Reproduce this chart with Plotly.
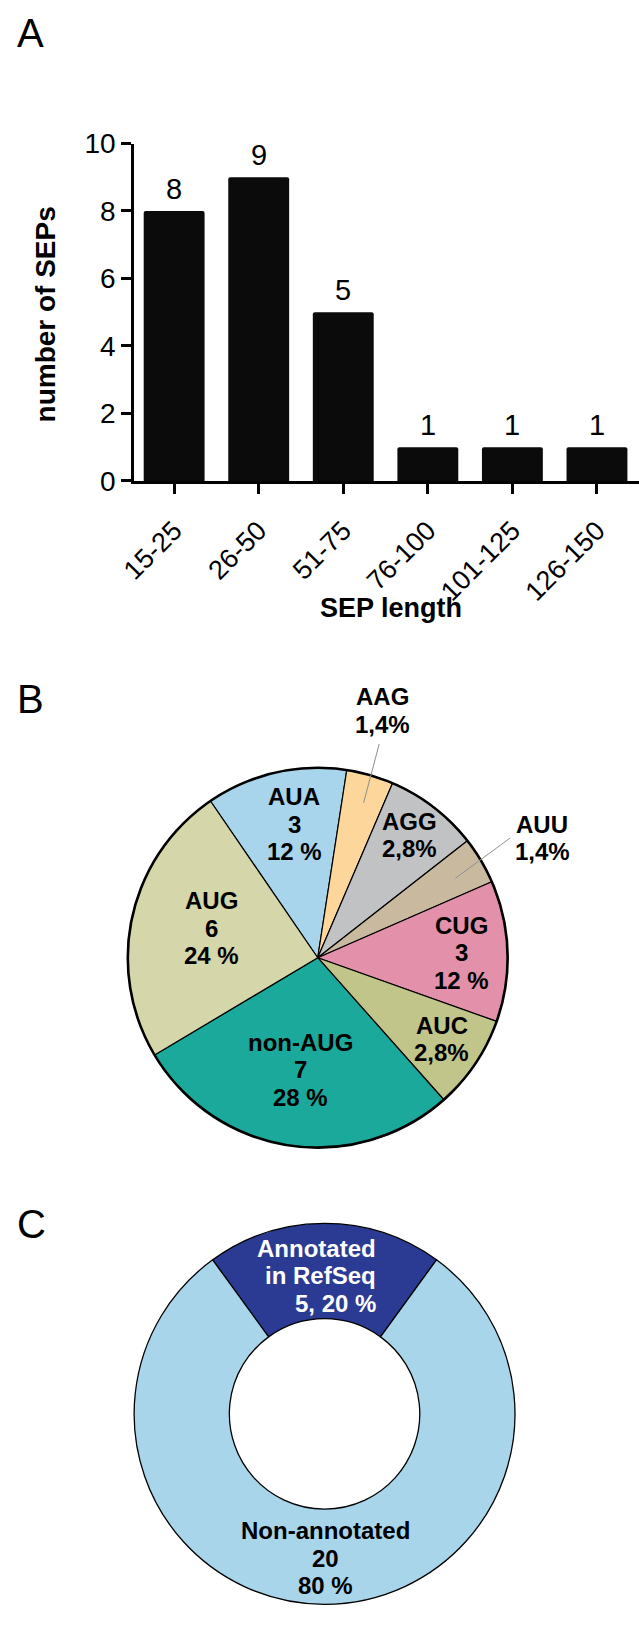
import plotly.graph_objects as go

W, H = 639, 1630

# ---------------- data ----------------
# Panel A: SEP length distribution
length_bins = ["15-25", "26-50", "51-75", "76-100", "101-125", "126-150"]
sep_counts = [8, 9, 5, 1, 1, 1]
y_ticks = [0, 2, 4, 6, 8, 10]

# Panel B: start codons
codons = ["AUA", "AAG", "AGG", "AUU", "CUG", "AUC", "non-AUG", "AUG"]
codon_counts = [3, 1, 2, 1, 3, 2, 7, 6]
codon_pct = ["12 %", "1,4%", "2,8%", "1,4%", "12 %", "2,8%", "28 %", "24 %"]
codon_colors = ["#A8D4EC", "#FDD69B", "#C1C2C4", "#C9B99F",
                "#E391AA", "#C2C58A", "#1AA99A", "#D5D6A9"]

# Panel C: RefSeq annotation
refseq_groups = ["Annotated in RefSeq", "Non-annotated"]
refseq_counts = [5, 20]
refseq_colors = ["#2B3A92", "#A9D5EB"]

FONT = "Liberation Sans, Arial, Helvetica, sans-serif"


def fx(px):
    return px / W


def fy(py):
    return 1 - py / H


fig = go.Figure()

# ---------------- Panel A ----------------
fig.add_trace(go.Bar(
    x=length_bins, y=sep_counts, width=0.72,
    marker=dict(color="#0b0b0b", cornerradius=2, line=dict(width=0)),
    xaxis="x", yaxis="y", showlegend=False, hoverinfo="x+y",
))

annotations = []
for cat, val in zip(length_bins, sep_counts):
    annotations.append(dict(
        x=cat, y=val, xref="x", yref="y", text=str(val), showarrow=False,
        yanchor="bottom", yshift=4, font=dict(family=FONT, size=29, color="black"),
    ))

# ---------------- Panel B ----------------
pie_b_dom = dict(x=[fx(310 - 194.5), fx(310 + 194.5)], y=[fy(961 + 194.5), fy(961 - 194.5)])
fig.add_trace(go.Pie(
    values=codon_counts, labels=codons, sort=False, direction="clockwise", rotation=-34.4,
    marker=dict(colors=codon_colors, line=dict(color="black", width=1.2)),
    textinfo="none", domain=pie_b_dom, showlegend=False,
))
# outer outline (single full slice, transparent)
fig.add_trace(go.Pie(
    values=[sum(codon_counts)], labels=["all"], sort=False,
    marker=dict(colors=["rgba(0,0,0,0)"], line=dict(color="black", width=2.6)),
    textinfo="none", domain=pie_b_dom, showlegend=False, hoverinfo="skip",
))

# ---------------- Panel C ----------------
pie_c_dom = dict(x=[fx(317 - 195), fx(317 + 195)], y=[fy(1426 + 195), fy(1426 - 195)])
fig.add_trace(go.Pie(
    values=refseq_counts, labels=refseq_groups, sort=False, direction="clockwise",
    rotation=-36, hole=0.5,
    marker=dict(colors=refseq_colors, line=dict(color="black", width=1.3)),
    textinfo="none", domain=pie_c_dom, showlegend=False,
))


def add_lines(lines, px, py0, spacing=28, color="black", anchor="center"):
    for i, ln in enumerate(lines):
        annotations.append(dict(
            x=fx(px), y=fy(py0 + i * spacing), xref="paper", yref="paper", text=ln,
            showarrow=False, xanchor=anchor, yanchor="middle",
            font=dict(family=FONT, size=24, color=color, weight="bold"),
        ))


# pie B labels (pixel centres)
codon_label_pos = [(286, 797), (376, 695), (404, 822), (540, 825),
                   (457, 928), (437, 1030), (292, 1047), (201, 903)]
for name, cnt, pct, (px, py) in zip(codons, codon_counts, codon_pct, codon_label_pos):
    if cnt >= 3:
        lines = [name, str(cnt), pct]
    else:
        lines = [name, pct]
    add_lines(lines, px, py)

# pie C labels
add_lines(["Annotated", "in RefSeq", f"{refseq_counts[0]}, 20 %"], 372, 1257,
          color="white", anchor="right")
add_lines(["Non-annotated", str(refseq_counts[1]), "80 %"], 318, 1545)

# axis titles
annotations.append(dict(
    x=fx(385), y=fy(604), xref="paper", yref="paper", text="SEP length", showarrow=False,
    xanchor="center", yanchor="middle",
    font=dict(family=FONT, size=27, color="black", weight="bold"),
))
annotations.append(dict(
    x=fx(31), y=fy(305), xref="paper", yref="paper", text="number of SEPs", showarrow=False,
    xanchor="center", yanchor="middle", textangle=-90,
    font=dict(family=FONT, size=28, color="black", weight="bold"),
))

# panel letters
annotations.append(dict(
    x=0, y=1, xref="paper", yref="paper", text="A", showarrow=False,
    xanchor="left", yanchor="top", yshift=6,
    font=dict(family=FONT, size=40, color="black"),
))
for letter, cy in [("B", 697), ("C", 1232)]:
    annotations.append(dict(
        x=0, y=fy(cy), xref="paper", yref="paper", text=letter, showarrow=False,
        xanchor="left", yanchor="middle",
        font=dict(family=FONT, size=40, color="black"),
    ))

# leader lines for small slices
shapes = [
    dict(type="line", xref="paper", yref="paper", x0=fx(373), y0=fy(743), x1=fx(357), y1=fy(803),
         line=dict(color="#8f8f8f", width=1)),
    dict(type="line", xref="paper", yref="paper", x0=fx(507), y0=fy(839), x1=fx(451), y1=fy(880),
         line=dict(color="#8f8f8f", width=1)),
]

axis_font = dict(family=FONT, size=27, color="black")
fig.update_layout(
    width=W, height=H,
    margin=dict(l=0, r=0, t=0, b=0),
    paper_bgcolor="white", plot_bgcolor="white",
    showlegend=False,
    xaxis=dict(
        domain=[fx(122), 1.0], anchor="y", type="category",
        range=[-0.473, 5.497], showline=True, linecolor="black", linewidth=3,
        ticks="outside", ticklen=10, tickwidth=3, tickcolor="black",
        tickangle=-45, tickfont=axis_font, ticklabelstandoff=10,
        showgrid=False, zeroline=False,
    ),
    yaxis=dict(
        domain=[fy(475), fy(131)], anchor="x",
        range=[0, 10], tickvals=y_ticks, showline=True, linecolor="black", linewidth=3,
        ticks="outside", ticklen=10, tickwidth=3, tickcolor="black",
        tickfont=dict(family=FONT, size=28, color="black"),
        showgrid=False, zeroline=False,
    ),
    annotations=annotations,
    shapes=shapes,
    font=dict(family=FONT, color="black"),
)

fig.write_html(
    "out.html",
    config={"displayModeBar": False},
    post_script="document.body.style.margin='0px';document.body.style.overflow='hidden';",
)
